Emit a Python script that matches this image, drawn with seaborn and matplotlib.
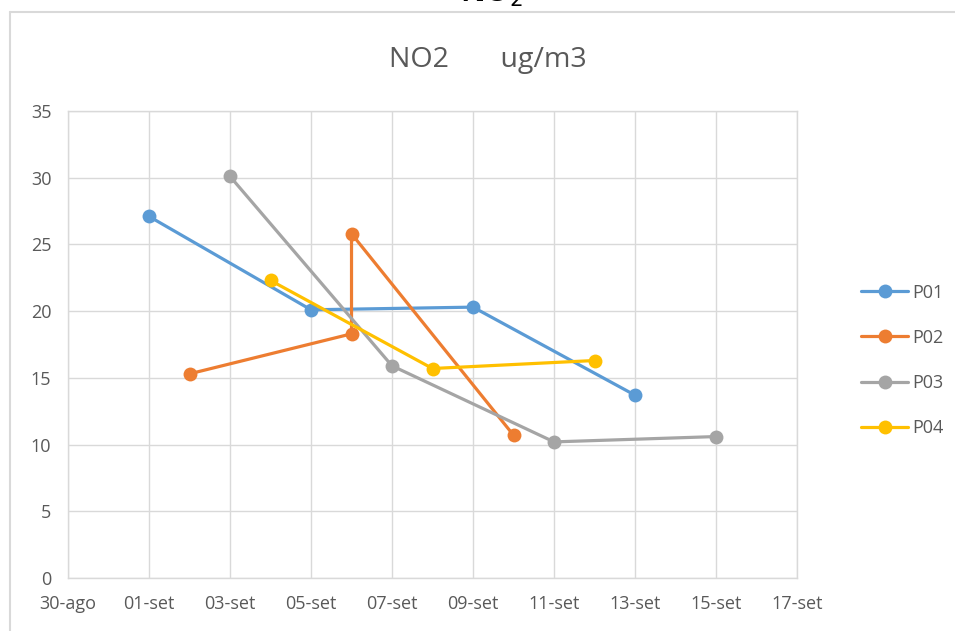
import pandas as pd
import numpy as np
import matplotlib
matplotlib.use("Agg")
import matplotlib.pyplot as plt
import matplotlib.dates as mdates
from matplotlib.ticker import FuncFormatter, MultipleLocator
from matplotlib.lines import Line2D
import seaborn as sns

# data (NO2, ug/m3)
p01_dates = ["2019-09-01", "2019-09-05", "2019-09-09", "2019-09-13"]
p01_vals = [27.1, 20.1, 20.3, 13.7]
p02_dates = ["2019-09-02", "2019-09-06", "2019-09-06", "2019-09-10"]
p02_vals = [15.3, 18.3, 25.8, 10.7]
p03_dates = ["2019-09-03", "2019-09-07", "2019-09-11", "2019-09-15"]
p03_vals = [30.1, 15.9, 10.2, 10.6]
p04_dates = ["2019-09-04", "2019-09-08", "2019-09-12"]
p04_vals = [22.3, 15.7, 16.3]

series = ["P01", "P02", "P03", "P04"]
colors = ["#5B9BD5", "#ED7D31", "#A5A5A5", "#FFC000"]
month_abbr = {8: "ago", 9: "set"}

frames = []
for name, d, v in zip(series,
                      [p01_dates, p02_dates, p03_dates, p04_dates],
                      [p01_vals, p02_vals, p03_vals, p04_vals]):
    frames.append(pd.DataFrame({"data": pd.to_datetime(d), "valor": v, "ponto": name}))
df = pd.concat(frames, ignore_index=True)

sns.set_style("white")
plt.rcParams["font.family"] = ["Open Sans", "DejaVu Sans"]
text_col = "#595959"
grid_col = "#D9D9D9"

fig = plt.figure(figsize=(9.55, 6.31), dpi=100)
ax = fig.add_axes([0.0712, 0.0840, 0.7634, 0.7401])

# sort=False keeps the vertical jump of P02 on 06-set
sns.lineplot(data=df, x="data", y="valor", hue="ponto", palette=colors,
             sort=False, estimator=None, marker="o", markersize=10,
             markeredgewidth=0, linewidth=2.3, legend=False, ax=ax)

ax.set_xlim(pd.Timestamp("2019-08-30"), pd.Timestamp("2019-09-17"))
ax.set_ylim(0, 35)
ax.yaxis.set_major_locator(MultipleLocator(5))
ax.set_xticks(pd.date_range("2019-08-30", "2019-09-17", freq="2D"))
ax.xaxis.set_major_formatter(FuncFormatter(
    lambda x, pos: "%02d-%s" % (mdates.num2date(x).day, month_abbr[mdates.num2date(x).month])))

ax.grid(True, color=grid_col, linewidth=1)
for s in ax.spines.values():
    s.set_color(grid_col)
    s.set_linewidth(1)
ax.tick_params(length=0, labelsize=13, colors=text_col, pad=12)
ax.set_xlabel("")
ax.set_ylabel("")

fig.text(0.511, 0.905, "NO2       ug/m3", ha="center", va="center",
         fontsize=20.5, color=text_col)

# heading above the chart frame, cut off by the top edge as in the original
fig.text(0.515, 0.986, "NO$_2$", ha="center", va="bottom",
         fontsize=22, fontweight="bold", color="black")

# chart frame
fig.add_artist(Line2D([0.0105, 1.0], [0.981, 0.981], color="#D9D9D9", linewidth=1.5))
fig.add_artist(Line2D([0.0105, 0.0105], [0.0, 0.981], color="#D9D9D9", linewidth=1.5))

handles = [Line2D([0], [0], color=c, linewidth=2.3, marker="o", markersize=10,
                  markeredgewidth=0) for c in colors]
fig.legend(handles, series, loc="center left", bbox_to_anchor=(0.885, 0.429),
           frameon=False, fontsize=13, labelcolor=text_col, handlelength=2.6,
           handletextpad=0.2, labelspacing=1.5)

fig.savefig("out.png", dpi=100)
